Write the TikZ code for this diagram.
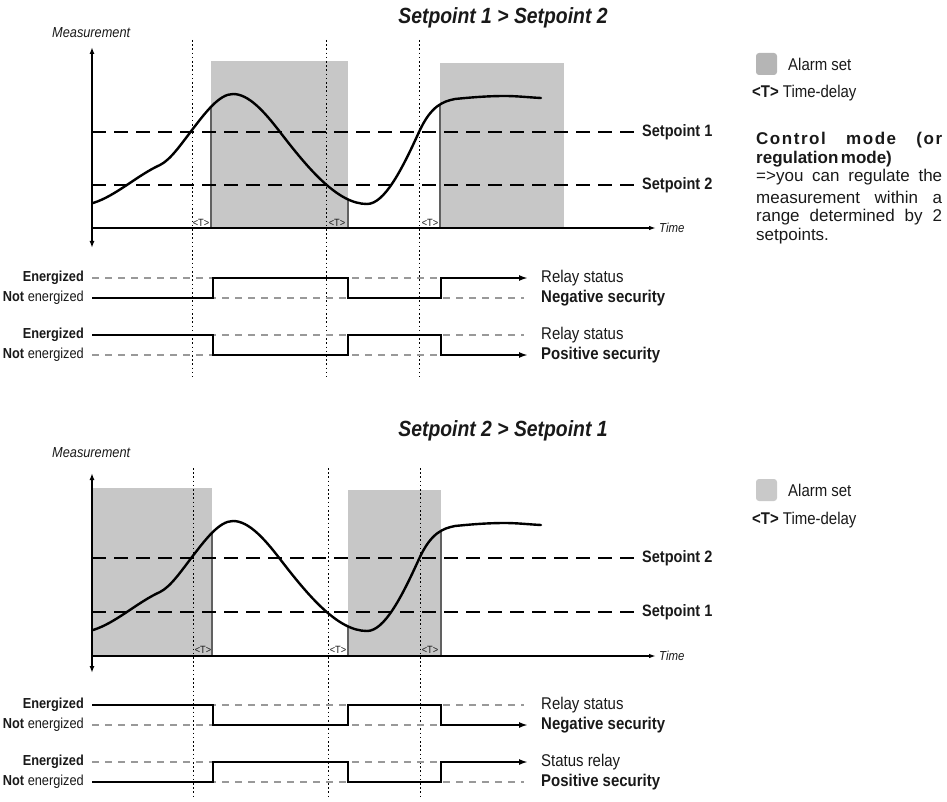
\documentclass[tikz,border=0pt]{standalone}
\usepackage{fontspec}
\setmainfont{Liberation Sans}[FakeStretch=0.88]
\newfontfamily\parafont{Liberation Sans}
\usetikzlibrary{arrows.meta}
\definecolor{alarm}{gray}{0.78}
\definecolor{alarmkey}{gray}{0.71}
\definecolor{alarmkeyb}{gray}{0.79}
\definecolor{edgegray}{gray}{0.38}
\definecolor{levelgray}{gray}{0.6}
\definecolor{inktext}{gray}{0.1}
\newcommand\fsz[1]{\fontsize{#1pt}{#1pt}\selectfont}
\newcommand\drawmeas{%
  \draw[meascurve] (93,203)
    .. controls (115.3,196.3) and (137.7,175) .. (160,165)
    .. controls (170.7,159.7) and (181.3,143.9) .. (192,130)
    .. controls (205.7,112.2) and (219.3,94) .. (233,94)
    .. controls (248.7,94) and (264.3,111.6) .. (280,132)
    .. controls (309,169.7) and (338,204) .. (367,204)
    .. controls (384.3,204) and (401.7,170.1) .. (419,132)
    .. controls (431,105.6) and (443,101.4) .. (455,99)
    .. controls (471.7,97.3) and (488.3,96) .. (505,96)
    .. controls (517,96) and (529,97.4) .. (541,98);}
\begin{document}
\begin{tikzpicture}[x=1pt,y=-1pt,
  lbl/.style={inner sep=0pt, text=inktext},
  titlelbl/.style={lbl, font=\fsz{22}\bfseries\itshape},
  measlbl/.style={lbl, anchor=west, font=\fsz{14.5}\itshape},
  timelbl/.style={lbl, anchor=west, font=\fsz{13}\itshape},
  splbl/.style={lbl, anchor=west, font=\fsz{16.5}\bfseries},
  tlbl/.style={lbl, font=\fsz{10.5}},
  levlbl/.style={lbl, anchor=east, font=\fsz{14.5}},
  statlbl/.style={lbl, anchor=west, font=\fsz{17}},
  keylbl/.style={lbl, anchor=west, font=\fsz{17}},
  paralbl/.style={lbl, anchor=west, font=\parafont\fsz{17}},
  axisline/.style={line width=1.8pt},
  vaxis/.style={axisline, {Latex[length=7pt,width=5pt]}-{Latex[length=7pt,width=5pt]}},
  haxis/.style={axisline, -{Latex[length=7pt,width=4.5pt]}},
  setline/.style={line width=2.4pt, dash pattern=on 14pt off 8pt},
  guide/.style={line width=0.9pt, dash pattern=on 1.6pt off 2.6pt},
  meascurve/.style={line width=2.4pt, line cap=round, line join=round},
  edgeline/.style={edgegray, line width=2pt},
  levelline/.style={levelgray, line width=2pt, dash pattern=on 7pt off 6pt},
  relayline/.style={line width=2.4pt, -{Latex[length=9pt,width=6pt]}},
]
\useasboundingbox (0,0) rectangle (947,802);

%================ TOP =================
\node[titlelbl] (title1) at (503,18) {Setpoint 1 > Setpoint 2};
\node[measlbl] (meas1) at (52,33) {Measurement};

\fill[alarm] (211,61) rectangle (348,228);
\fill[alarm] (440,63) rectangle (564,228);
\draw[edgeline] (211,107) -- (211,228);
\draw[edgeline] (348,200) -- (348,228);
\draw[edgeline] (440,104) -- (440,228);

\draw[guide] (192,40) -- (192,377);
\draw[guide] (326,40) -- (326,377);
\draw[guide] (419,40) -- (419,377);

\draw[setline] (92,132) -- (635,132);
\draw[setline] (92,185) -- (635,185);
\node[splbl] (sp1a) at (642,132) {Setpoint 1};
\node[splbl] (sp2a) at (642,185) {Setpoint 2};

\drawmeas

\draw[vaxis] (92,47) -- (92,248);
\draw[haxis] (92,228) -- (656,228);
\node[timelbl] (time1) at (659,228) {Time};

\node[tlbl] (ta1) at (201,223) {<T>};
\node[tlbl] (ta2) at (337,223) {<T>};
\node[tlbl] (ta3) at (430,223) {<T>};

% legend
\fill[alarmkey, rounded corners=3pt] (756,53) rectangle (777,75);
\node[keylbl] (ka1) at (788,64) {Alarm set};
\node[keylbl] (kb1) at (752,93) {\textbf{<T>} Time-delay};

\node[paralbl] (p1) at (756,140) {\makebox[186pt][s]{\bfseries\addfontfeature{LetterSpace=9}Control mode (or}};
\node[paralbl] (p2) at (756,159) {\bfseries regulation\hspace{2.5pt}mode)};
\node[paralbl] (p3) at (756,177) {\makebox[186pt][s]{=>you can regulate the}};
\node[paralbl] (p4) at (756,197) {\makebox[186pt][s]{measurement within a}};
\node[paralbl] (p5) at (756,217) {\makebox[186pt][s]{range determined by 2}};
\node[paralbl] (p6) at (756,236) {setpoints.};

% relay rows (top)
\node[levlbl] (e1) at (84,278) {\textbf{Energized}};
\node[levlbl] (n1) at (84,298) {\textbf{Not} energized};
\node[levlbl] (e2) at (84,335) {\textbf{Energized}};
\node[levlbl] (n2) at (84,355) {\textbf{Not} energized};
\draw[levelline] (92,278) -- (524,278);
\draw[levelline] (92,298) -- (524,298);
\draw[levelline] (92,335) -- (524,335);
\draw[levelline] (92,355) -- (524,355);
\draw[relayline] (92,298) -- (213,298) -- (213,278) -- (348,278) -- (348,298) -- (441,298) -- (441,278) -- (528,278);
\draw[relayline] (92,335) -- (213,335) -- (213,355) -- (348,355) -- (348,335) -- (441,335) -- (441,355) -- (528,355);
\node[statlbl] (r1) at (541,278) {Relay status};
\node[statlbl] (r2) at (541,298) {\textbf{Negative security}};
\node[statlbl] (r3) at (541,335) {Relay status};
\node[statlbl] (r4) at (541,355) {\textbf{Positive security}};

%================ BOTTOM =================
\node[titlelbl] (title2) at (503,431) {Setpoint 2 > Setpoint 1};
\node[measlbl] (meas2) at (52,453) {Measurement};

\begin{scope}[shift={(0,427)}]
\fill[alarm] (92,61) rectangle (212,228);
\fill[alarm] (348,63) rectangle (441,228);
\draw[edgeline] (212,106) -- (212,228);
\draw[edgeline] (348,200) -- (348,228);
\draw[edgeline] (441,104) -- (441,228);
\end{scope}

\draw[guide] (193,468) -- (193,797);
\draw[guide] (328,468) -- (328,797);
\draw[guide] (420,468) -- (420,797);

\begin{scope}[shift={(0,427)}]
\draw[setline] (92,131) -- (635,131);
\draw[setline] (92,185) -- (635,185);
\drawmeas
\draw[vaxis] (92,46) -- (92,246);
\draw[haxis] (92,229) -- (656,229);
\end{scope}
\node[splbl] (sp2b) at (642,558) {Setpoint 2};
\node[splbl] (sp1b) at (642,612) {Setpoint 1};
\node[timelbl] (time2) at (659,656) {Time};
\node[tlbl] (tb1) at (203,650) {<T>};
\node[tlbl] (tb2) at (338,650) {<T>};
\node[tlbl] (tb3) at (430,650) {<T>};

% legend
\fill[alarmkeyb, rounded corners=3pt] (756,479) rectangle (777,501);
\node[keylbl] (ka2) at (788,490) {Alarm set};
\node[keylbl] (kb2) at (752,520) {\textbf{<T>} Time-delay};

% relay rows (bottom)
\node[levlbl] (e3) at (84,705) {\textbf{Energized}};
\node[levlbl] (n3) at (84,725) {\textbf{Not} energized};
\node[levlbl] (e4) at (84,762) {\textbf{Energized}};
\node[levlbl] (n4) at (84,782) {\textbf{Not} energized};
\draw[levelline] (92,705) -- (524,705);
\draw[levelline] (92,725) -- (524,725);
\draw[levelline] (92,762) -- (524,762);
\draw[levelline] (92,782) -- (524,782);
\draw[relayline] (92,705) -- (213,705) -- (213,725) -- (348,725) -- (348,705) -- (441,705) -- (441,725) -- (528,725);
\draw[relayline] (92,782) -- (213,782) -- (213,762) -- (348,762) -- (348,782) -- (441,782) -- (441,762) -- (528,762);
\node[statlbl] (r5) at (541,705) {Relay status};
\node[statlbl] (r6) at (541,725) {\textbf{Negative security}};
\node[statlbl] (r7) at (541,762) {Status relay};
\node[statlbl] (r8) at (541,782) {\textbf{Positive security}};
\end{tikzpicture}
\end{document}
